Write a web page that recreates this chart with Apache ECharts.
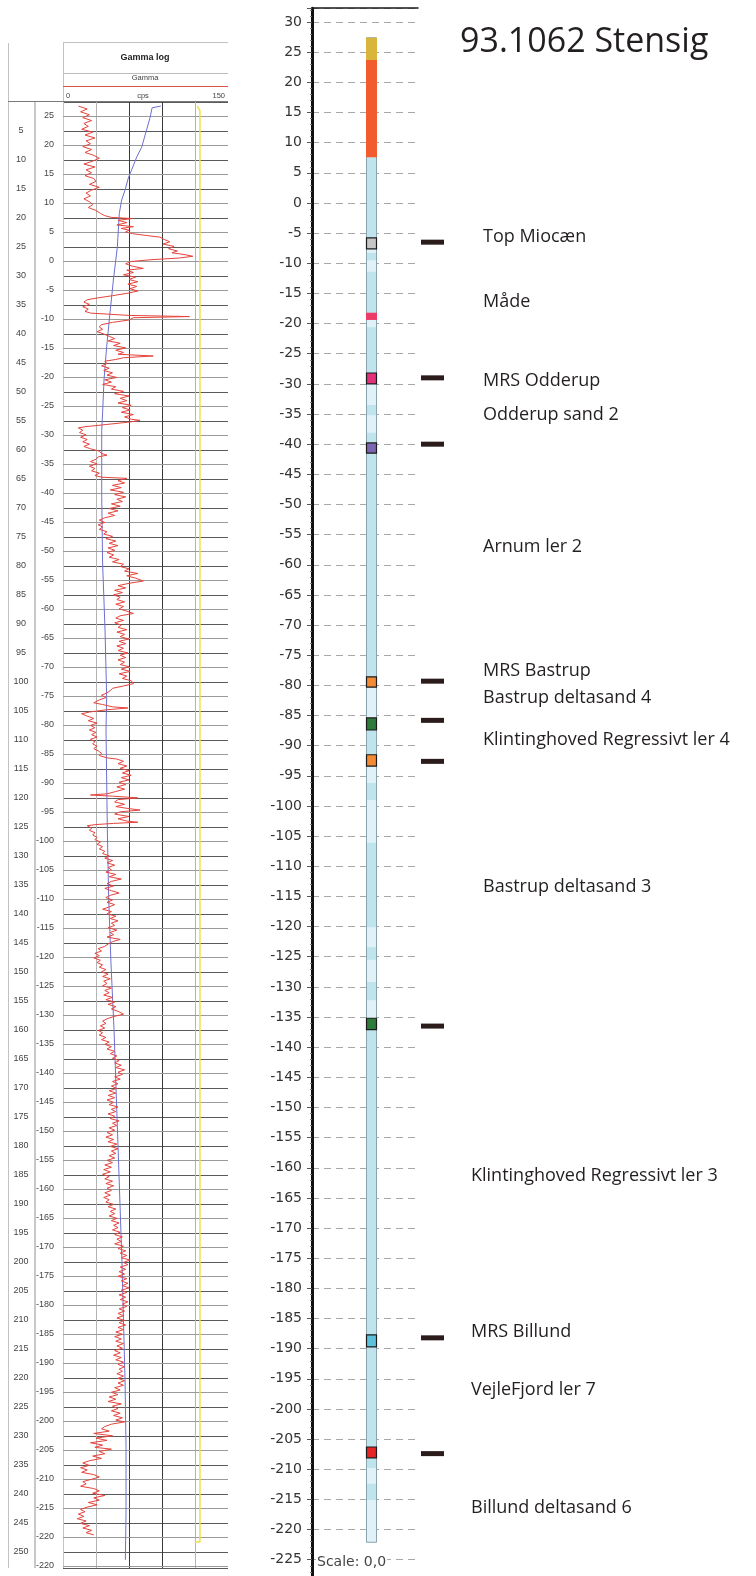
<!DOCTYPE html>
<html>
<head>
<meta charset="utf-8">
<script src="https://cdn.jsdelivr.net/npm/echarts/dist/echarts.min.js"></script>
<style>
  html, body { margin: 0; padding: 0; background: #ffffff; }
  #chart { width: 756px; height: 1576px; }
</style>
</head>
<body>
<div id="chart"></div>
<script>
// ---- Borehole 93.1062 Stensig: gamma log (left) and stratigraphic column (right) ----

// Ground level of the borehole, m above sea level
const groundElevation = 27.4;

// Elevation ticks written beside the log (m a.s.l.)
const elevTicks = [25, 20, 15, 10, 5, 0, -5, -10, -15, -20, -25, -30, -35, -40, -45, -50, -55, -60,
  -65, -70, -75, -80, -85, -90, -95, -100, -105, -110, -115, -120, -125, -130, -135, -140, -145,
  -150, -155, -160, -165, -170, -175, -180, -185, -190, -195, -200, -205, -210, -215, -220, -225];
const elevTickLabels = ['25', '20', '15', '10', '5', '0', '-5', '-10', '-15', '-20', '-25', '-30', '-35',
  '-40', '-45', '-50', '-55', '-60', '-65', '-70', '-75', '-80', '-85', '-90', '-95', '-100', '-105',
  '-110', '-115', '-120', '-125', '-130', '-135', '-140', '-145', '-150', '-155', '-160', '-165', '-170',
  '-175', '-180', '-185', '-190', '-195', '-200', '-205', '-210', '-215', '-220', '-220'];

// Gamma log, red trace: [depth m, cps]
const gammaRed = [
  [0.7,14],[1.2,22],[1.7,16],[2.2,24],[2.7,18],[3.2,26],[3.7,19],[4.2,23],[4.7,17],[5.2,27],[5.7,20],
  [6.2,29],[6.7,21],[7.2,25],[7.7,18],[8.2,26],[8.7,20],[9.2,28],[9.7,33],[10.2,27],[10.7,19],[11.2,29],
  [11.7,21],[12.2,26],[12.7,20],[13.2,28],[13.7,30],[14.2,24],[14.7,33],[15.2,26],[15.7,21],[16.2,25],
  [16.7,19],[17.2,24],[17.7,27],[18.2,23],[18.7,30],[19.2,34],[19.6,38],[19.9,44],[20.1,63],[20.4,50],
  [20.8,58],[21.2,49],[21.5,64],[21.8,53],[22.1,60],[22.4,57],[22.7,63],[23.0,75],[23.3,88],[23.7,92],
  [24.1,97],[24.5,91],[24.9,101],[25.3,96],[25.7,104],[26.0,99],[26.3,110],[26.6,118],[26.9,106],
  [27.2,80],[27.5,62],[27.9,57],[28.3,63],[28.7,73],[29.0,58],[29.4,64],[29.8,55],[30.2,66],[30.6,60],
  [31.0,68],[31.4,59],[31.8,67],[32.2,61],[32.6,68],[33.0,58],[33.4,45],[33.8,31],[34.1,22],[34.5,19],
  [34.9,24],[35.3,18],[35.7,23],[36.1,20],[36.4,25],[36.8,60],[37.0,115],[37.2,64],[37.6,60],[38.0,45],
  [38.4,35],[38.8,33],[39.2,36],[39.6,31],[40.0,37],[40.4,42],[40.8,47],[41.2,41],[41.6,52],[42.0,46],
  [42.4,57],[42.8,48],[43.2,55],[43.5,50],[43.8,82],[44.1,55],[44.4,48],[44.7,38],[45.1,40],[45.5,35],
  [45.9,42],[46.3,37],[46.7,45],[47.1,40],[47.5,49],[47.9,38],[48.3,44],[48.7,36],[49.1,48],[49.5,44],
  [49.9,55],[50.3,47],[50.7,60],[51.1,52],[51.5,58],[51.9,50],[52.3,62],[52.7,54],[53.1,61],[53.5,53],
  [53.9,64],[54.3,56],[54.7,62],[54.9,70],[55.2,60],[55.6,40],[56.0,20],[56.2,14],[56.6,18],[57.0,15],
  [57.4,21],[57.8,16],[58.2,22],[58.6,18],[59.0,24],[59.4,19],[59.8,25],[60.2,33],[60.6,35],[60.9,40],
  [61.2,32],[61.6,30],[62.0,25],[62.4,31],[62.8,24],[63.2,29],[63.6,26],[64.0,33],[64.4,29],[64.7,35],
  [64.9,58],[65.3,50],[65.7,56],[66.1,45],[66.5,53],[66.9,43],[67.3,55],[67.7,47],[68.1,57],[68.5,49],
  [68.9,54],[69.3,44],[69.7,52],[70.1,42],[70.5,50],[70.9,41],[71.3,47],[71.7,38],[72.1,33],[72.5,38],
  [72.9,32],[73.3,36],[73.7,33],[74.1,40],[74.5,37],[74.9,45],[75.3,39],[75.7,48],[76.1,42],[76.5,50],
  [76.9,41],[77.3,47],[77.7,40],[78.1,46],[78.5,42],[78.9,51],[79.3,45],[79.7,55],[80.1,52],[80.5,60],
  [80.9,56],[81.3,68],[81.7,58],[82.1,66],[82.6,73],[83.0,60],[83.4,50],[83.8,57],[84.2,47],[84.6,54],
  [85.0,46],[85.4,52],[85.8,49],[86.2,56],[86.6,48],[87.0,55],[87.4,51],[87.8,58],[88.2,64],[88.6,52],
  [89.0,48],[89.4,55],[89.8,47],[90.2,53],[90.6,50],[91.0,58],[91.4,49],[91.8,56],[92.2,52],[92.6,60],
  [93.0,51],[93.4,57],[93.8,49],[94.2,55],[94.6,50],[95.0,59],[95.4,52],[95.8,57],[96.2,50],[96.6,56],
  [97.0,52],[97.4,60],[97.8,53],[98.2,61],[98.6,51],[99.0,58],[99.4,54],[99.8,62],[100.3,64],[100.7,55],
  [101.1,45],[101.5,43],[101.9,40],[102.3,35],[102.7,39],[103.1,33],[103.6,28],[103.9,36],[104.3,45],
  [104.5,59],[104.8,40],[105.2,24],[105.5,17],[105.9,22],[106.3,28],[106.7,23],[107.1,31],[107.5,25],
  [107.9,29],[108.3,24],[108.7,30],[109.1,26],[109.5,31],[109.9,25],[110.3,29],[110.7,27],[111.1,31],
  [111.5,28],[111.9,32],[112.3,35],[112.7,33],[113.1,40],[113.3,49],[113.7,55],[114.1,50],[114.5,58],
  [114.9,52],[115.3,60],[115.7,54],[116.1,62],[116.5,53],[116.9,60],[117.3,51],[117.7,57],[118.1,49],
  [118.5,56],[118.9,48],[119.3,40],[119.5,25],[119.7,45],[120.0,68],[120.3,50],[120.7,47],[121.1,56],
  [121.5,48],[121.8,58],[122.1,70],[122.4,52],[122.8,47],[123.2,60],[123.6,50],[124.0,58],[124.2,68],
  [124.4,46],[124.6,30],[124.8,22],[125.2,26],[125.6,24],[126.0,29],[126.4,27],[126.8,31],[127.2,29],
  [127.6,34],[128.0,31],[128.4,36],[128.8,33],[129.2,38],[129.6,36],[130.0,42],[130.4,38],[130.8,45],
  [131.2,40],[131.6,47],[132.0,41],[132.4,44],[132.8,39],[133.2,48],[133.6,42],[134.0,53],[134.4,44],
  [134.8,40],[135.2,46],[135.6,38],[136.0,44],[136.4,51],[136.8,43],[137.2,39],[137.6,45],[138.0,40],
  [138.4,47],[138.8,42],[139.2,36],[139.6,44],[140.0,40],[140.4,48],[140.8,43],[141.2,50],[141.6,44],
  [142.0,47],[142.4,41],[142.8,49],[143.2,43],[143.6,46],[144.0,40],[144.4,52],[144.8,45],[145.2,41],
  [145.6,38],[146.0,32],[146.4,35],[146.8,29],[147.2,33],[147.6,28],[148.0,34],[148.4,31],[148.8,36],
  [149.2,33],[149.6,39],[150.0,35],[150.4,41],[150.8,36],[151.2,43],[151.6,37],[152.0,40],[152.4,36],
  [152.8,44],[153.2,38],[153.6,42],[154.0,37],[154.4,45],[154.8,39],[155.2,47],[155.6,41],[156.0,48],
  [156.4,44],[156.8,50],[157.3,55],[157.7,46],[158.1,40],[158.5,36],[158.9,39],[159.3,34],[159.7,38],
  [160.1,32],[160.5,36],[160.9,33],[161.3,39],[161.7,35],[162.1,42],[162.5,38],[162.9,44],[163.3,40],
  [163.7,47],[164.1,43],[164.5,49],[164.9,45],[165.3,51],[165.7,47],[166.1,53],[166.5,48],[166.9,56],
  [167.3,50],[167.7,54],[168.1,47],[168.5,52],[168.9,45],[169.3,50],[169.7,44],[170.1,49],[170.5,42],
  [170.9,48],[171.3,41],[171.7,47],[172.1,40],[172.5,46],[172.9,42],[173.3,50],[173.7,44],[174.1,48],
  [174.5,41],[174.9,47],[175.3,43],[175.7,51],[176.1,45],[176.5,49],[176.9,42],[177.3,47],[177.7,40],
  [178.1,45],[178.5,39],[178.9,46],[179.3,41],[179.7,49],[180.1,43],[180.5,50],[180.9,44],[181.3,48],
  [181.7,42],[182.1,47],[182.5,40],[182.9,45],[183.3,38],[183.7,44],[184.1,37],[184.5,43],[184.9,36],
  [185.3,42],[185.7,38],[186.1,45],[186.5,39],[186.9,46],[187.3,40],[187.7,44],[188.1,38],[188.5,43],
  [188.9,37],[189.3,42],[189.7,39],[190.1,46],[190.5,41],[190.9,48],[191.3,43],[191.7,47],[192.1,42],
  [192.5,49],[192.9,44],[193.3,51],[193.7,46],[194.1,50],[194.5,45],[194.9,52],[195.3,47],[195.7,54],
  [196.1,49],[196.5,53],[196.9,47],[197.3,55],[197.7,50],[198.1,57],[198.5,52],[198.9,58],[199.3,53],
  [199.7,61],[200.1,55],[200.5,59],[200.9,52],[201.3,57],[201.7,51],[202.1,56],[202.5,50],[202.9,58],
  [203.3,53],[203.7,59],[204.1,54],[204.5,60],[204.9,53],[205.3,58],[205.7,51],[206.1,57],[206.5,52],
  [206.9,59],[207.3,54],[207.7,58],[208.1,51],[208.5,56],[208.9,50],[209.3,55],[209.7,49],[210.1,56],
  [210.5,51],[210.9,57],[211.3,50],[211.7,55],[212.1,48],[212.5,54],[212.9,47],[213.3,53],[213.7,48],
  [214.1,55],[214.5,49],[214.9,54],[215.3,47],[215.7,52],[216.1,46],[216.5,53],[216.9,48],[217.3,55],
  [217.7,50],[218.1,56],[218.5,51],[218.9,54],[219.3,49],[219.7,55],[220.1,50],[220.5,56],[220.9,50],
  [221.3,55],[221.7,47],[222.1,52],[222.5,44],[222.9,50],[223.3,42],[223.7,48],[224.1,41],[224.5,53],
  [224.9,45],[225.3,50],[225.7,44],[226.1,52],[226.5,46],[226.9,54],[227.3,48],[227.6,56],[228.0,44],
  [228.4,38],[228.8,35],[229.2,42],[229.6,28],[230.0,45],[230.4,30],[230.8,40],[231.2,25],[231.6,36],
  [232.0,29],[232.3,44],[232.7,33],[233.1,38],[233.5,27],[233.9,35],[234.3,24],[234.7,18],[235.1,24],
  [235.5,16],[235.9,22],[236.3,17],[236.7,28],[237.1,33],[237.5,26],[237.9,18],[238.3,21],[238.7,16],
  [239.1,28],[239.5,33],[239.9,27],[240.3,38],[240.7,28],[241.1,33],[241.5,23],[241.9,31],[242.3,22],
  [242.7,16],[243.1,20],[243.5,14],[243.9,19],[244.3,13],[244.7,21],[245.1,16],[245.5,24],[245.9,18],
  [246.3,26],[246.7,21],[247.1,28]
];

// Second log trace (blue): [depth m, cps]
const gammaBlue = [
  [0.7,89],[1.0,81],[2.8,79],[4.8,76],[7.8,71.5],[9.5,67],[11.7,62.4],[13.1,59.4],[15.2,56.4],
  [16.9,53.3],[19.2,51.2],[25,49.4],[30.7,45.8],[36.4,42.7],[42.2,39.7],[47.9,37.3],[53.6,36],
  [56.6,35.2],[68,35.2],[79.5,36],[91,38.2],[102.6,39.7],[108.3,39.1],[125.5,40.3],[137,41.5],
  [148.5,43.6],[160,46.4],[180,50],[200,53.6],[220.3,56.4],[231.9,57.3],[243.3,57.3],[251.4,56.7]
];

// Third trace (yellow): [depth m, cps]
const gammaYellow = [[0.7,122],[1.5,124.5],[248.3,124.5],[248.3,120]];

// Stratigraphic column: ground surface to bottom of the hole (m a.s.l.)
const columnTop = 27.4;
const columnBottom = -222.1;

// Paler intervals inside the light-blue body: [top, bottom]
const paleBands = [
  [-7.6,-8.3],[-9.5,-11.4],[-19.4,-20.6],[-30.0,-33.5],[-35.2,-38.1],[-80.3,-85.4],[-93.4,-96.2],
  [-99.0,-106.1],[-120.1,-123.4],[-125.5,-129.2],[-132.2,-135.2],[-209.8,-212.4],[-215.1,-222.1]
];

// Coloured units: [top, bottom, kind]
const units = [
  [27.4, 23.7, 'gold'],
  [23.7, 7.6, 'vermilion'],
  [-5.8, -7.6, 'grey'],
  [-18.2, -19.4, 'rose'],
  [-28.2, -30.0, 'magenta'],
  [-39.8, -41.5, 'violet'],
  [-78.6, -80.3, 'orange'],
  [-85.4, -87.4, 'green'],
  [-91.5, -93.4, 'orange'],
  [-135.2, -137.1, 'green'],
  [-187.7, -189.7, 'cyan'],
  [-206.3, -208.1, 'red']
];

// Horizon markers (m a.s.l.)
const horizonElev = [-6.5, -29.0, -40.0, -79.3, -85.8, -92.6, -136.5, -188.2, -207.4];

// Unit names and the elevations they are written at
const unitNames = [
  'Top Miocæn', 'Måde', 'MRS Odderup', 'Odderup sand 2', 'Arnum ler 2', 'MRS Bastrup',
  'Bastrup deltasand 4', 'Klintinghoved Regressivt ler 4', 'Bastrup deltasand 3',
  'Klintinghoved Regressivt ler 3', 'MRS Billund', 'VejleFjord ler 7', 'Billund deltasand 6'
];
const unitLabelElev = [-5.6, -16.4, -29.5, -35.2, -57.0, -77.6, -82.1, -89.1, -113.4, -161.4, -187.2, -196.8, -216.4];

// ---- styling ----
const unitFill = {
  gold: '#d9b53c', vermilion: '#f15b2d', grey: '#c6c6c6', rose: '#ec3d68', magenta: '#e2317a',
  violet: '#7b67b0', orange: '#f28b34', green: '#2f7b3b', cyan: '#5dc1db', red: '#e62626'
};
const unitOutlined = { grey: true, magenta: true, violet: true, orange: true, green: true, cyan: true, red: true };
const bodyFill = '#bfe4ed';
const paleFill = '#e0f2f7';

const chart = echarts.init(document.getElementById('chart'), null, { renderer: 'canvas' });

const logGrid = { left: 63, top: 102, width: 165, height: 1466 };
const colGrid = { left: 312, top: 8.2, width: 106, height: 1581.7 };

// column drawing items in paint order
const columnItems = [[columnTop, columnBottom, 'body']]
  .concat(paleBands.map(b => [b[0], b[1], 'pale']))
  .concat([[columnTop, columnBottom, 'outline']])
  .concat(units);

const option = {
  animation: false,
  backgroundColor: '#ffffff',
  textStyle: { fontFamily: 'Liberation Sans, Arial, sans-serif' },
  grid: [
    Object.assign({ containLabel: false, outerBoundsMode: 'none', show: false }, logGrid),
    Object.assign({ containLabel: false, outerBoundsMode: 'none', show: false }, colGrid)
  ],
  xAxis: [
    {
      gridIndex: 0, type: 'value', min: 0, max: 150, interval: 30,
      axisLine: { show: false }, axisTick: { show: false }, axisLabel: { show: false },
      splitLine: { show: true, lineStyle: { width: 1, color: ['#c4c4c4', '#b4b4b4', '#3a3a3a', '#3a3a3a', '#b4b4b4', 'rgba(0,0,0,0)'] } }
    },
    {
      gridIndex: 1, type: 'value', min: 0, max: 1, position: 'top',
      axisLine: { show: true, onZero: false, lineStyle: { color: '#1a1a1a', width: 1.5 } },
      axisTick: { show: false }, axisLabel: { show: false }, splitLine: { show: false }
    }
  ],
  yAxis: [
    {
      gridIndex: 0, type: 'value', inverse: true, min: 0, max: 252.8, interval: 5,
      axisLine: { show: false }, axisTick: { show: false },
      axisLabel: {
        show: true, align: 'center', margin: 42, fontSize: 9, color: '#444',
        fontFamily: 'Liberation Sans, Arial, sans-serif',
        formatter: v => (v > 0 && v % 5 === 0) ? String(v) : ''
      },
      splitLine: { show: true, lineStyle: { color: '#5a5a5a', width: 1 } }
    },
    {
      gridIndex: 1, type: 'value', min: -230, max: 32.3, interval: 5,
      axisLine: { show: true, onZero: false, lineStyle: { color: '#111', width: 3 } },
      axisTick: { show: true, inside: false, length: 5, lineStyle: { color: '#555', width: 1 } },
      minorTick: { show: true, splitNumber: 5, length: 2, lineStyle: { color: '#777', width: 1 } },
      axisLabel: {
        show: true, margin: 10, fontSize: 14, color: '#333',
        fontFamily: 'DejaVu Sans, sans-serif', showMaxLabel: false,
        formatter: v => (Math.abs(v % 5) < 1e-9 && v <= 30) ? String(v) : ''
      },
      splitLine: { show: true, lineStyle: { color: '#a8a8a8', width: 1, type: [7, 5] } }
    }
  ],
  graphic: [
    // header frame of the log panel
    { type: 'line', z: 100, shape: { x1: 8.5, y1: 43, x2: 8.5, y2: 1568 }, style: { stroke: '#c2c2c2', lineWidth: 1 } },
    { type: 'line', z: 100, shape: { x1: 35, y1: 101, x2: 35, y2: 1568 }, style: { stroke: '#c8c8c8', lineWidth: 2 } },
    { type: 'line', z: 100, shape: { x1: 63.5, y1: 42, x2: 63.5, y2: 102 }, style: { stroke: '#c2c2c2', lineWidth: 1 } },
    { type: 'line', z: 100, shape: { x1: 63, y1: 42.5, x2: 228, y2: 42.5 }, style: { stroke: '#c2c2c2', lineWidth: 1 } },
    { type: 'line', z: 100, shape: { x1: 63, y1: 73.5, x2: 228, y2: 73.5 }, style: { stroke: '#bdbdbd', lineWidth: 1 } },
    { type: 'line', z: 100, shape: { x1: 63, y1: 86.5, x2: 228, y2: 86.5 }, style: { stroke: '#e0504a', lineWidth: 1 } },
    { type: 'line', z: 100, shape: { x1: 8, y1: 101.5, x2: 228, y2: 101.5 }, style: { stroke: '#7a7a7a', lineWidth: 1 } },
    { type: 'text', z: 100, style: { text: 'Gamma log', x: 145, y: 58, align: 'center', verticalAlign: 'middle', font: 'bold 9px Liberation Sans, Arial, sans-serif', fill: '#222' } },
    { type: 'text', z: 100, style: { text: 'Gamma', x: 145, y: 78, align: 'center', verticalAlign: 'middle', font: '7.5px Liberation Sans, Arial, sans-serif', fill: '#444' } },
    { type: 'text', z: 100, style: { text: '0', x: 66, y: 96, align: 'left', verticalAlign: 'middle', font: '7.5px Liberation Sans, Arial, sans-serif', fill: '#444' } },
    { type: 'text', z: 100, style: { text: 'cps', x: 143, y: 96, align: 'center', verticalAlign: 'middle', font: '7.5px Liberation Sans, Arial, sans-serif', fill: '#444' } },
    { type: 'text', z: 100, style: { text: '150', x: 225, y: 96, align: 'right', verticalAlign: 'middle', font: '7.5px Liberation Sans, Arial, sans-serif', fill: '#444' } },
    // title and scale note
    { type: 'text', z: 100, style: { text: '93.1062 Stensig', x: 460, y: 42, align: 'left', verticalAlign: 'middle', font: '34px Open Sans, sans-serif', fill: '#231f20' } },
    { type: 'text', z: 100, style: { text: 'Scale: 0,0', x: 316, y: 1562, align: 'left', verticalAlign: 'middle', font: '14px DejaVu Sans, sans-serif', fill: '#444', backgroundColor: '#ffffff', padding: [1, 1, 1, 1] } }
  ],
  series: [
    // elevation grid lines and labels of the log panel
    {
      type: 'custom', xAxisIndex: 0, yAxisIndex: 0, clip: false, z: 1, silent: true,
      data: elevTicks.map((e, i) => [0, groundElevation - e, i]),
      renderItem: (params, api) => {
        const i = params.dataIndex;
        const depth = groundElevation - elevTicks[i];
        const a = api.coord([0, depth]);
        const b = api.coord([150, depth]);
        return {
          type: 'group',
          children: [
            { type: 'line', shape: { x1: a[0], y1: Math.round(a[1]) + 0.5, x2: b[0], y2: Math.round(a[1]) + 0.5 }, style: { stroke: '#9a9a9a', lineWidth: 1 } },
            { type: 'text', style: { text: elevTickLabels[i], x: a[0] - 9, y: a[1], align: 'right', verticalAlign: 'middle', font: '9px Liberation Sans, Arial, sans-serif', fill: '#444' } }
          ]
        };
      }
    },
    {
      type: 'line', xAxisIndex: 0, yAxisIndex: 0, showSymbol: false, symbol: 'none', z: 4,
      lineStyle: { color: '#6d70d2', width: 1 },
      data: gammaBlue.map(p => [p[1], p[0]])
    },
    {
      type: 'line', xAxisIndex: 0, yAxisIndex: 0, showSymbol: false, symbol: 'none', z: 4,
      lineStyle: { color: '#f0e040', width: 1.5 },
      data: gammaYellow.map(p => [p[1], p[0]])
    },
    {
      type: 'line', xAxisIndex: 0, yAxisIndex: 0, showSymbol: false, symbol: 'none', z: 5,
      lineStyle: { color: '#e5443c', width: 1 },
      data: gammaRed.map(p => [p[1], p[0]])
    },
    // stratigraphic column
    {
      type: 'custom', xAxisIndex: 1, yAxisIndex: 1, clip: false, z: 5, silent: true,
      data: columnItems.map(c => [0.5, c[0], c[1]]),
      renderItem: (params, api) => {
        const item = columnItems[params.dataIndex];
        const top = api.coord([0, item[0]])[1];
        const bottom = api.coord([0, item[1]])[1];
        const x = params.coordSys.x + 54;
        const w = 11;
        const kind = item[2];
        if (kind === 'body') {
          return { type: 'rect', shape: { x: x, y: top, width: w, height: bottom - top }, style: { fill: bodyFill } };
        }
        if (kind === 'pale') {
          return { type: 'rect', shape: { x: x, y: top, width: w, height: bottom - top }, style: { fill: paleFill } };
        }
        if (kind === 'outline') {
          return { type: 'rect', shape: { x: x + 0.5, y: top, width: w - 1, height: bottom - top }, style: { fill: 'none', stroke: '#8aa3ad', lineWidth: 1 } };
        }
        const outlined = !!unitOutlined[kind];
        return {
          type: 'rect',
          shape: { x: outlined ? x + 0.5 : x, y: top, width: outlined ? w - 1 : w, height: bottom - top },
          style: { fill: unitFill[kind], stroke: outlined ? '#1b1b1b' : null, lineWidth: outlined ? 1.2 : 0 }
        };
      }
    },
    // horizon markers
    {
      type: 'custom', xAxisIndex: 1, yAxisIndex: 1, clip: false, z: 5, silent: true,
      data: horizonElev.map(e => [1, e]),
      renderItem: (params, api) => {
        const y = api.coord([1, horizonElev[params.dataIndex]])[1];
        const x0 = params.coordSys.x + params.coordSys.width + 3;
        return { type: 'rect', shape: { x: x0, y: y - 2.5, width: 23, height: 5 }, style: { fill: '#2b1b1b' } };
      }
    },
    // unit names
    {
      type: 'custom', xAxisIndex: 1, yAxisIndex: 1, clip: false, z: 5, silent: true,
      data: unitLabelElev.map(e => [1, e]),
      renderItem: (params, api) => {
        const i = params.dataIndex;
        const y = api.coord([1, unitLabelElev[i]])[1];
        const x = params.coordSys.x + params.coordSys.width + (i >= 9 ? 53 : 65);
        return {
          type: 'text',
          style: { text: unitNames[i], x: x, y: y, align: 'left', verticalAlign: 'middle', font: '18px Open Sans, sans-serif', fill: '#231f20' }
        };
      }
    }
  ]
};

chart.setOption(option);
</script>
</body>
</html>
